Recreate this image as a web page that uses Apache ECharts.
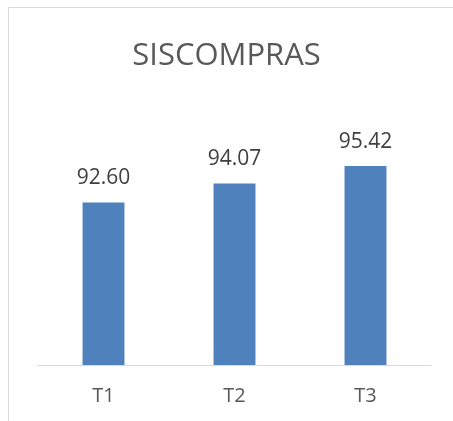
<!DOCTYPE html>
<html><head><meta charset="utf-8">
<script src="https://cdn.jsdelivr.net/npm/echarts@6/dist/echarts.min.js"></script>
<style>html,body{margin:0;padding:0;background:#fff;}#c{width:453px;height:421px;}</style>
</head><body><div id="c"></div>
<script>
const categories = ['T1', 'T2', 'T3'];
const values = [92.60, 94.07, 95.42];
const titleText = 'SISCOMPRAS';

const chart = echarts.init(document.getElementById('c'));
chart.setOption({
  animation: false,
  graphic: [{
    type: 'rect', shape: { x: 8.5, y: 7.5, width: 600, height: 600 },
    style: { fill: 'none', stroke: '#d9d9d9', lineWidth: 1 }, z: -1
  }],
  title: {
    text: titleText, left: 'center', top: 36,
    textStyle: { fontFamily: 'Open Sans', fontSize: 31, fontWeight: 'normal', color: '#595959' }
  },
  grid: { left: 38, right: 22, top: 107, bottom: 56 },
  xAxis: {
    type: 'category', data: categories,
    axisLine: { lineStyle: { color: '#d9d9d9', width: 1 } },
    axisTick: { show: false },
    axisLabel: { fontFamily: 'Open Sans', fontSize: 20, color: '#595959', margin: 21 }
  },
  yAxis: { type: 'value', min: 80, max: 100, show: false },
  series: [{
    type: 'bar', data: values, barWidth: '32%',
    itemStyle: { color: '#4f81bd' },
    label: {
      show: true, position: 'top', distance: 14,
      formatter: p => p.value.toFixed(2),
      fontFamily: 'Open Sans', fontSize: 21, color: '#404040'
    }
  }]
});
</script></body></html>
